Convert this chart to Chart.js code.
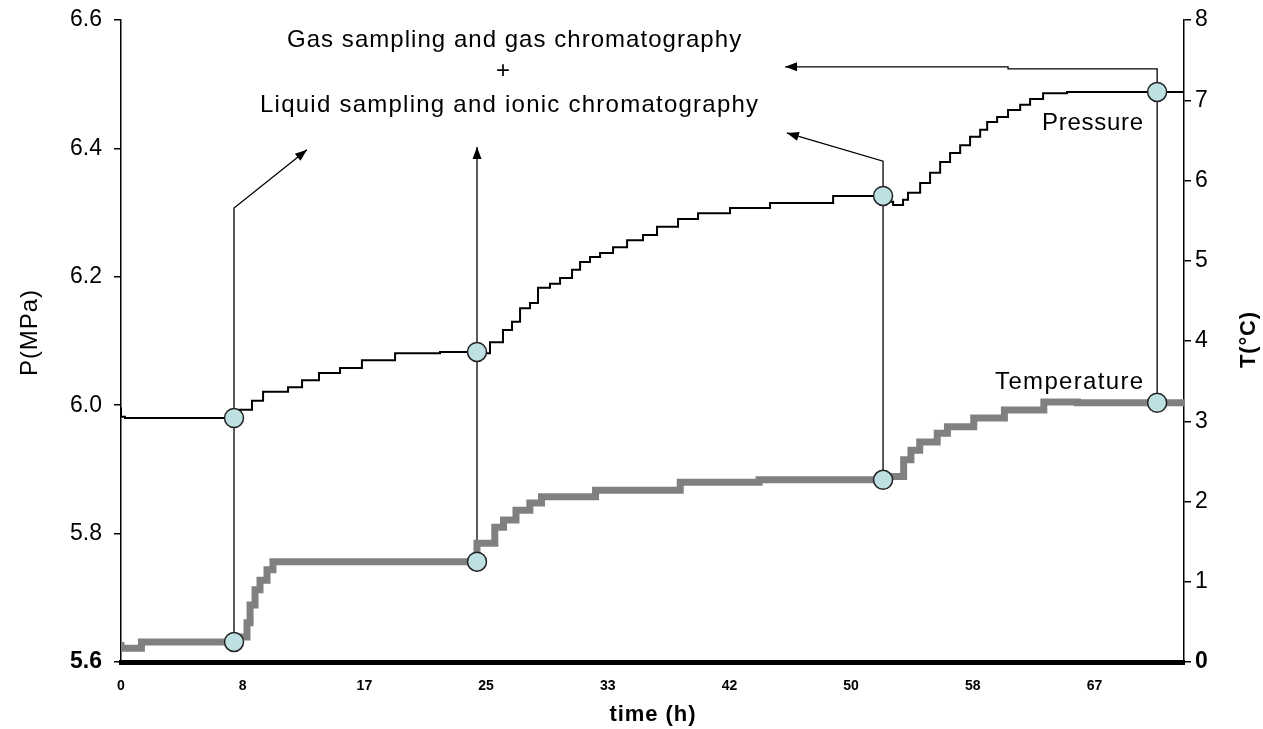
<!DOCTYPE html>
<html>
<head>
<meta charset="utf-8">
<script src="https://cdn.jsdelivr.net/npm/chart.js"></script>
<style>
html,body{margin:0;padding:0;background:#fff;}
#wrap{width:1263px;height:729px;position:relative;}
</style>
</head>
<body>
<div id="wrap"><canvas id="c"></canvas></div>
<script>
// ---- data ----
const pressureHours = [0, 0.27, 7.74, 8.15, 8.97, 9.73, 11.44, 12.40, 13.56, 15.0, 16.5, 18.77, 21.85, 24.38, 25.27, 26.16, 26.78, 27.33, 28.01, 28.56, 29.38, 30.07, 30.89, 31.44, 32.12, 32.81, 33.70, 34.66, 35.75, 36.71, 38.15, 39.52, 41.71, 44.45, 48.77, 52.19, 52.88, 53.56, 53.90, 54.73, 55.41, 56.10, 56.78, 57.47, 58.15, 58.84, 59.32, 60.0, 60.75, 61.58, 62.26, 63.15, 64.79, 70.96, 72.8];
const pressureValues = [5.997, 5.982, 5.980, 5.985, 5.993, 6.007, 6.021, 6.028, 6.039, 6.050, 6.058, 6.070, 6.081, 6.083, 6.081, 6.098, 6.117, 6.130, 6.151, 6.159, 6.183, 6.189, 6.198, 6.211, 6.223, 6.231, 6.237, 6.246, 6.257, 6.265, 6.278, 6.290, 6.299, 6.307, 6.315, 6.326, 6.317, 6.312, 6.320, 6.331, 6.346, 6.362, 6.379, 6.393, 6.405, 6.418, 6.429, 6.441, 6.449, 6.460, 6.468, 6.477, 6.486, 6.488, 6.488];

const temperatureHours = [0, 1.4, 2.5, 7.7, 8.63, 8.84, 9.18, 9.52, 10.0, 10.41, 13.3, 24.38, 25.6, 26.2, 27.05, 28.0, 28.8, 32.5, 38.3, 43.7, 52.19, 53.6, 54.1, 54.7, 55.9, 56.6, 58.4, 60.5, 63.2, 65.5, 70.96, 72.8];
const temperatureValues = [0.25, 0.17, 0.25, 0.25, 0.31, 0.49, 0.71, 0.90, 1.02, 1.15, 1.25, 1.25, 1.48, 1.68, 1.77, 1.89, 1.98, 2.06, 2.14, 2.24, 2.27, 2.31, 2.52, 2.64, 2.74, 2.85, 2.93, 3.04, 3.14, 3.24, 3.23, 3.23];

const samplingHours = [7.74, 24.38, 52.19, 70.96];
const samplingPressure = [5.980, 6.083, 6.326, 6.488];
const samplingTemperature = [0.25, 1.25, 2.27, 3.23];

const xTickValues = [0, 8.33, 16.67, 25, 33.33, 41.67, 50, 58.33, 66.67];
const xTickLabels = ['0', '8', '17', '25', '33', '42', '50', '58', '67'];
const pressureTicks = [5.6, 5.8, 6.0, 6.2, 6.4, 6.6];
const temperatureTicks = [0, 1, 2, 3, 4, 5, 6, 7, 8];

// annotation arrows, in (hours, MPa)
const arrowPaths = [
  [[7.74, 5.980], [7.74, 6.307], [12.74, 6.398]],
  [[24.38, 6.083], [24.38, 6.402]],
  [[52.19, 6.326], [52.19, 6.380], [45.6, 6.424]],
  [[70.96, 6.488], [70.96, 6.524], [60.75, 6.524], [60.75, 6.527], [45.48, 6.527]]
];
const noteLines = ['Gas sampling and gas chromatography', '+', 'Liquid sampling and ionic chromatography'];

// ---- chart ----
const FONT = "'Liberation Sans', Arial, sans-serif";
const NOTE_FONT = "'Liberation Sans Narrow', 'Arial Narrow', 'Liberation Sans', sans-serif";

function fitText(ctx, text, left, baseY, width) {
  ctx.letterSpacing = '0px';
  const w = ctx.measureText(text).width;
  const ls = text.length > 1 ? (width - w) / (text.length - 1) : 0;
  ctx.letterSpacing = ls + 'px';
  ctx.fillText(text, left, baseY);
  ctx.letterSpacing = '0px';
}

const overlay = {
  id: 'overlay',
  beforeDatasetsDraw(chart) {
    const { ctx, scales: { x, y, y1 } } = chart;
    ctx.save();
    ctx.strokeStyle = '#000';
    ctx.fillStyle = '#000';
    ctx.lineWidth = 1.3;
    samplingHours.forEach((h, i) => {
      const px = x.getPixelForValue(h);
      ctx.beginPath();
      ctx.moveTo(px, y1.getPixelForValue(samplingTemperature[i]));
      ctx.lineTo(px, y.getPixelForValue(samplingPressure[i]));
      ctx.stroke();
    });
    arrowPaths.forEach(path => {
      const pts = path.map(([h, p]) => [x.getPixelForValue(h), y.getPixelForValue(p)]);
      ctx.beginPath();
      ctx.moveTo(pts[0][0], pts[0][1]);
      for (let k = 1; k < pts.length; k++) ctx.lineTo(pts[k][0], pts[k][1]);
      ctx.stroke();
      const [x2, y2] = pts[pts.length - 1];
      const [x1, yy1] = pts[pts.length - 2];
      const a = Math.atan2(y2 - yy1, x2 - x1);
      const L = 12, W = 4.5;
      ctx.beginPath();
      ctx.moveTo(x2, y2);
      ctx.lineTo(x2 - L * Math.cos(a) + W * Math.sin(a), y2 - L * Math.sin(a) - W * Math.cos(a));
      ctx.lineTo(x2 - L * Math.cos(a) - W * Math.sin(a), y2 - L * Math.sin(a) + W * Math.cos(a));
      ctx.closePath();
      ctx.fill();
    });
    ctx.restore();
  },
  afterDraw(chart) {
    const { ctx, chartArea, scales: { x, y, y1 } } = chart;
    ctx.save();
    ctx.fillStyle = '#000';
    ctx.textBaseline = 'alphabetic';
    ctx.textAlign = 'left';
    // top notes
    ctx.font = '24px ' + NOTE_FONT;
    fitText(ctx, noteLines[0], x.getPixelForValue(11.37), y.getPixelForValue(6.5584), x.getPixelForValue(42.47) - x.getPixelForValue(11.37));
    ctx.textAlign = 'center';
    ctx.textBaseline = 'middle';
    ctx.fillText(noteLines[1], x.getPixelForValue(26.16), y.getPixelForValue(6.5195));
    ctx.textAlign = 'left';
    ctx.textBaseline = 'alphabetic';
    fitText(ctx, noteLines[2], x.getPixelForValue(9.52), y.getPixelForValue(6.4567), x.getPixelForValue(43.63) - x.getPixelForValue(9.52));
    // series labels
    ctx.font = '24px ' + NOTE_FONT;
    fitText(ctx, 'Pressure', x.getPixelForValue(63.08), y.getPixelForValue(6.4287), x.getPixelForValue(70.0) - x.getPixelForValue(63.08));
    fitText(ctx, 'Temperature', x.getPixelForValue(59.86), y1.getPixelForValue(3.40), x.getPixelForValue(70.0) - x.getPixelForValue(59.86));
    // axis titles
    ctx.textBaseline = 'middle';
    ctx.font = '24px ' + FONT;
    ctx.save();
    ctx.translate(30, 333);
    ctx.rotate(-Math.PI / 2);
    fitText(ctx, 'P(MPa)', -43, 0, 86);
    ctx.restore();
    ctx.font = 'bold 22px ' + FONT;
    ctx.save();
    ctx.translate(1249, 340);
    ctx.rotate(-Math.PI / 2);
    fitText(ctx, 'T(°C)', -28, 0, 56);
    ctx.restore();
    const cx = (chartArea.left + chartArea.right) / 2;
    fitText(ctx, 'time (h)', cx - 43, 715, 86);
    ctx.restore();
  }
};

const tickFont = (size, boldVal) => (c) => ({
  family: FONT, size: size,
  weight: (c.tick && c.tick.value === boldVal) ? 'bold' : 'normal'
});

new Chart(document.getElementById('c'), {
  type: 'line',
  data: {
    datasets: [
      {
        label: 'Sampling (P)',
        data: samplingHours.map((h, i) => ({ x: h, y: samplingPressure[i] })),
        yAxisID: 'y', showLine: false,
        pointRadius: 9.5, pointBackgroundColor: '#bde0e3', pointBorderColor: '#222', pointBorderWidth: 1.5,
        order: 0, clip: false
      },
      {
        label: 'Sampling (T)',
        data: samplingHours.map((h, i) => ({ x: h, y: samplingTemperature[i] })),
        yAxisID: 'y1', showLine: false,
        pointRadius: 9.5, pointBackgroundColor: '#bde0e3', pointBorderColor: '#222', pointBorderWidth: 1.5,
        order: 0, clip: false
      },
      {
        label: 'Pressure',
        data: pressureHours.map((h, i) => ({ x: h, y: pressureValues[i] })),
        yAxisID: 'y', stepped: 'after',
        borderColor: '#000', borderWidth: 2, pointRadius: 0, fill: false,
        order: 1
      },
      {
        label: 'Temperature',
        data: temperatureHours.map((h, i) => ({ x: h, y: temperatureValues[i] })),
        yAxisID: 'y1', stepped: 'after',
        borderColor: '#808080', borderWidth: 7, pointRadius: 0, fill: false,
        borderCapStyle: 'butt', borderJoinStyle: 'miter',
        order: 2
      }
    ]
  },
  options: {
    responsive: true,
    maintainAspectRatio: false,
    animation: false,
    devicePixelRatio: 1,
    layout: { padding: { top: 20, left: 0, right: 0, bottom: 0 } },
    plugins: { legend: { display: false }, tooltip: { enabled: false } },
    scales: {
      x: {
        type: 'linear', position: 'bottom', min: 0, max: 72.8,
        afterBuildTicks: s => { s.ticks = xTickValues.map(v => ({ value: v })); },
        afterFit: s => { s.height = 67; s.paddingLeft = 0; s.paddingRight = 0; },
        grid: { display: false, drawTicks: false },
        border: { display: true, color: '#000', width: 5 },
        ticks: {
          color: '#000', padding: 16, autoSkip: false, maxRotation: 0,
          font: { family: FONT, size: 14, weight: 'bold' },
          callback: (v) => xTickLabels[xTickValues.indexOf(v)]
        }
      },
      y: {
        type: 'linear', position: 'left', min: 5.6, max: 6.6,
        afterBuildTicks: s => { s.ticks = pressureTicks.map(v => ({ value: v })); },
        afterFit: s => { s.width = 121; s.paddingTop = 0; s.paddingBottom = 0; },
        grid: { drawOnChartArea: false, drawTicks: true, tickLength: 7, color: '#000', lineWidth: 1.5 },
        border: { display: true, color: '#000', width: 1.5 },
        ticks: { color: '#000', padding: 12, font: tickFont(23, 5.6), callback: v => v.toFixed(1) }
      },
      y1: {
        type: 'linear', position: 'right', min: 0, max: 8,
        afterBuildTicks: s => { s.ticks = temperatureTicks.map(v => ({ value: v })); },
        afterFit: s => { s.width = 79; s.paddingTop = 0; s.paddingBottom = 0; },
        grid: { drawOnChartArea: false, drawTicks: true, tickLength: 7, color: '#000', lineWidth: 1.5 },
        border: { display: true, color: '#000', width: 1.5 },
        ticks: { color: '#000', padding: 4, font: tickFont(23, 0), callback: v => String(v) }
      }
    }
  },
  plugins: [overlay]
});
</script>
</body>
</html>
